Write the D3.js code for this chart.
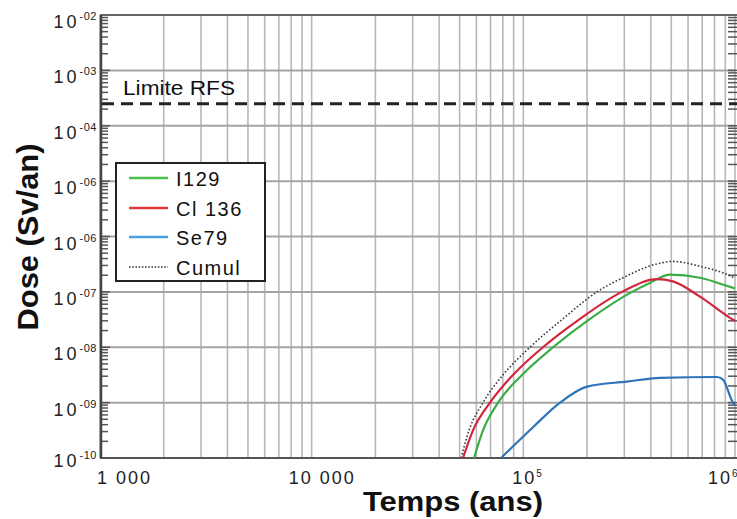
<!DOCTYPE html>
<html><head><meta charset="utf-8">
<script src="https://cdn.jsdelivr.net/npm/d3@7"></script>
<style>
html,body{margin:0;padding:0;background:#fff;}
svg{display:block;font-family:"Liberation Sans",Arial,sans-serif;}
</style></head>
<body>
<svg id="chart" width="737" height="519"></svg>
<script>
// ---- data ----
const xTickValues = [1000, 10000, 1e5, 1e6];
const xTickBase = ["1 000", "10 000", "10", "10"];
const xTickSup = ["", "", "5", "6"];
const yTickValues = [1e-2, 1e-3, 1e-4, 1e-5, 1e-6, 1e-7, 1e-8, 1e-9, 1e-10];
const yTickSup = ["-02", "-03", "-04", "-06", "-06", "-07", "-08", "-09", "-10"];
const seriesNames = ["I129", "Cl 136", "Se79", "Cumul"];
const rfsLimit = 2.5e-4;
const rfsLabel = "Limite RFS";
const xTitle = "Temps (ans)";
const yTitle = "Dose (Sv/an)";

const i129T = [58470, 64480, 75930, 98560, 138100, 204300, 326100, 396000, 493100, 683300, 947100, 1e6];
const i129V = [1e-10, 3.16e-10, 1e-9, 3.16e-9, 1e-8, 3.16e-8, 1e-7, 1.45e-7, 2.05e-7, 1.8e-7, 1.23e-7, 1.15e-7];
const cl136T = [51870, 57830, 69590, 89370, 123800, 183200, 292500, 428000, 509300, 683300, 947100, 1e6];
const cl136V = [1e-10, 3.16e-10, 1e-9, 3.16e-9, 1e-8, 3.16e-8, 1e-7, 1.7e-7, 1.55e-7, 8.2e-8, 3.4e-8, 3.0e-8];
const se79T = [78440, 111100, 149000, 199800, 308800, 442200, 822000, 877500, 978500, 1e6];
const se79V = [1e-10, 3.6e-10, 1e-9, 1.95e-9, 2.4e-9, 2.8e-9, 2.9e-9, 2.6e-9, 1.0e-9, 9e-10];
const cumulT = [50770, 55380, 64480, 80150, 107500, 152300, 222800, 295700, 428000, 509300, 683300, 947100, 1e6];
const cumulV = [1e-10, 3.16e-10, 1e-9, 3.16e-9, 1e-8, 3.16e-8, 1e-7, 1.8e-7, 3.2e-7, 3.55e-7, 2.9e-7, 1.95e-7, 1.75e-7];

// ---- layout / style ----
const L = 100, R = 735, T = 15, B = 458;
const colors = ["#3aae46", "#d2263c", "#2f74ba", "#3a3a3a"];
const legendColors = ["#4cc04c", "#e03a3a", "#4aa0e0", "#3a3a3a"];
const xLabelShift = [-3, -23, -11, -27];

const svg = d3.select("#chart");
const x = d3.scaleLog().domain([1000, 1e6]).range([L, R]);
const y = d3.scaleLog().domain([1e-10, 1e-2]).range([B, T]);

// vertical grid (all log ticks)
svg.append("g").selectAll("line").data(x.ticks()).join("line")
  .attr("x1", d => x(d)).attr("x2", d => x(d)).attr("y1", T).attr("y2", B)
  .attr("stroke", "#b8b8b8").attr("stroke-width", 1.6);
// horizontal grid (decades)
svg.append("g").selectAll("line").data(yTickValues).join("line")
  .attr("x1", L).attr("x2", R).attr("y1", d => y(d)).attr("y2", d => y(d))
  .attr("stroke", "#a4a4a4").attr("stroke-width", 2);

// minor ticks on left & right
const yMinor = y.ticks();
svg.append("g").selectAll("line").data(yMinor).join("line")
  .attr("x1", L).attr("x2", d => L + (yTickValues.includes(d) ? 10 : 8))
  .attr("y1", d => y(d)).attr("y2", d => y(d))
  .attr("stroke", "#555").attr("stroke-width", 1.5);
svg.append("g").selectAll("line").data(yMinor).join("line")
  .attr("x1", 737).attr("x2", R - 7)
  .attr("y1", d => y(d)).attr("y2", d => y(d))
  .attr("stroke", "#555").attr("stroke-width", 1.5);

// frame
svg.append("line").attr("x1", L).attr("x2", 737).attr("y1", T).attr("y2", T)
  .attr("stroke", "#666").attr("stroke-width", 2);
svg.append("line").attr("x1", L).attr("x2", 737).attr("y1", B).attr("y2", B)
  .attr("stroke", "#555").attr("stroke-width", 2);
svg.append("line").attr("x1", L + 1).attr("x2", L + 1).attr("y1", T).attr("y2", B)
  .attr("stroke", "#444").attr("stroke-width", 2.5);

// y tick labels
const yl = svg.append("g").selectAll("text").data(yTickValues).join("text")
  .attr("x", 97)
  .attr("y", (d, i) => y(d) + (i === yTickValues.length - 1 ? 9 : 13))
  .attr("text-anchor", "end").attr("fill", "#222");
yl.append("tspan").attr("font-size", 18).attr("letter-spacing", 3).text("10");
yl.append("tspan").attr("font-size", 11).attr("dy", -8).attr("letter-spacing", 0.5)
  .text((d, i) => yTickSup[i]);

// x tick labels
const xl = svg.append("g").selectAll("text").data(xTickValues).join("text")
  .attr("x", (d, i) => x(d) + xLabelShift[i]).attr("y", 484)
  .attr("text-anchor", "start").attr("fill", "#222");
xl.append("tspan").attr("font-size", 18).attr("letter-spacing", 2).text((d, i) => xTickBase[i]);
xl.append("tspan").attr("font-size", 10).attr("dy", -7).text((d, i) => xTickSup[i]);

// titles
svg.append("text").attr("x", 453).attr("y", 511).attr("text-anchor", "middle")
  .attr("font-size", 27).attr("font-weight", "bold").attr("fill", "#111")
  .attr("textLength", 180).attr("lengthAdjust", "spacingAndGlyphs").text(xTitle);
svg.append("text").attr("transform", "translate(38,237) rotate(-90)").attr("text-anchor", "middle")
  .attr("font-size", 30).attr("font-weight", "bold").attr("fill", "#111")
  .attr("textLength", 187).attr("lengthAdjust", "spacingAndGlyphs").text(yTitle);

// RFS limit
svg.append("line").attr("x1", L + 2).attr("x2", 737).attr("y1", y(rfsLimit)).attr("y2", y(rfsLimit))
  .attr("stroke", "#222").attr("stroke-width", 3).attr("stroke-dasharray", "12,7");
svg.append("text").attr("x", 123).attr("y", 95).attr("font-size", 20).attr("fill", "#111")
  .attr("textLength", 112).attr("lengthAdjust", "spacingAndGlyphs").text(rfsLabel);

// curves
svg.append("clipPath").attr("id", "clip").append("rect")
  .attr("x", L).attr("y", T).attr("width", 737 - L).attr("height", B - T);
const seriesT = [i129T, cl136T, se79T, cumulT];
const seriesV = [i129V, cl136V, se79V, cumulV];
const line = d3.line().x(d => x(d[0])).y(d => y(d[1])).curve(d3.curveMonotoneX);
const gc = svg.append("g").attr("clip-path", "url(#clip)");
[3, 2, 0, 1].forEach(i => {
  const pts = seriesT[i].map((t, j) => [t, seriesV[i][j]]);
  gc.append("path").attr("d", line(pts)).attr("fill", "none")
    .attr("stroke", colors[i]).attr("stroke-width", i === 3 ? 1.6 : 2.2)
    .attr("stroke-dasharray", i === 3 ? "1.6,2" : null);
});

// legend
const lg = svg.append("g");
lg.append("rect").attr("x", 116).attr("y", 163).attr("width", 149).attr("height", 118)
  .attr("fill", "#fff").attr("stroke", "#222").attr("stroke-width", 2);
const rowY = [178, 208, 237, 267];
seriesNames.forEach((n, i) => {
  lg.append("line").attr("x1", 129).attr("x2", 168).attr("y1", rowY[i]).attr("y2", rowY[i])
    .attr("stroke", legendColors[i]).attr("stroke-width", i === 3 ? 1.4 : 2.4)
    .attr("stroke-dasharray", i === 3 ? "1.6,1.6" : null);
  lg.append("text").attr("x", 176).attr("y", rowY[i] + 8).attr("font-size", 20)
    .attr("letter-spacing", 1.5).attr("fill", "#111").text(n);
});
</script>
</body></html>
